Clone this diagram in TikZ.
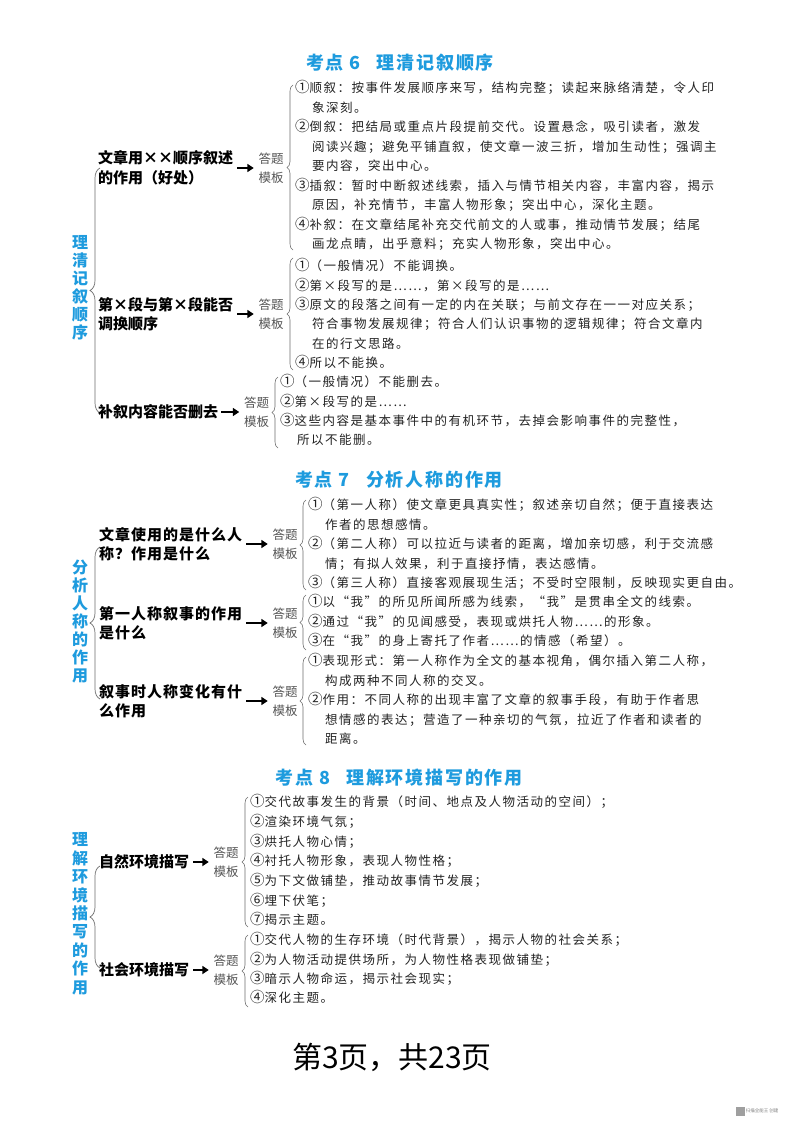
\documentclass[tikz,border=0pt]{standalone}
\usepackage{fontspec}
\setmainfont{Noto Sans CJK SC}
\newfontfamily\cjk{Noto Sans CJK SC}
\newfontfamily\cjkit[LetterSpace=12]{Noto Sans CJK SC}
\newfontfamily\cjkti[LetterSpace=10]{Noto Sans CJK SC}
\newfontfamily\cjklb[LetterSpace=6.7]{Noto Sans CJK SC}
\usetikzlibrary{decorations.pathreplacing,arrows.meta}
\definecolor{cyanT}{RGB}{30,155,222}
\definecolor{txt}{RGB}{35,35,35}
\definecolor{gry}{RGB}{85,85,85}
\definecolor{brc}{RGB}{110,110,110}
\tikzset{
 ttl/.style={text=cyanT, font=\cjkti\bfseries\fontsize{18}{18}\selectfont, inner sep=0, text height=.88em, text depth=.12em},
 vlab/.style={text=cyanT, font=\cjk\bfseries\fontsize{16}{16}\selectfont, inner sep=0, text height=.88em, text depth=.12em},
 blab/.style={text=black, font=\cjk\bfseries\fontsize{15}{19.5}\selectfont, inner sep=0, align=left, anchor=west},
 blabw/.style={blab, font=\cjklb\bfseries\fontsize{15}{19.5}\selectfont},
 dtm/.style={text=gry, font=\cjk\fontsize{12.5}{18.5}\selectfont, inner sep=0, align=center},
 itm/.style={text=txt, font=\cjkit\fontsize{12.5}{12.5}\selectfont, inner sep=0, text height=.88em, text depth=.12em, anchor=west},
 arr/.style={-{Triangle[length=6.5pt,width=8pt]}, line width=2.4pt, black},
 sbrace/.style={decorate, decoration={brace, amplitude=6pt}, draw=brc, line width=0.6pt},
 bbrace/.style={decorate, decoration={brace, amplitude=10pt}, draw=brc, line width=0.7pt},
}
\newcommand\ind{\hspace*{17pt}}
\newcommand\cn[1]{{\fontsize{14.5}{14.5}\selectfont #1}}
\newcommand\elp{⋯⋯}
\newcommand\itemlines[5]{\foreach \t [count=\i from 0] in {#5}{\node[itm] (#1-\i) at ({#2},{#3+\i*#4}) {\t};}}
\newcommand\vlabel[5]{\foreach \c [count=\i from 0] in {#5}{\node[vlab] (#1-\i) at ({#2},{#3+\i*#4}) {\c};}}
\begin{document}
\begin{tikzpicture}[x=1pt,y=-1pt]
\fill[white] (0,0) rectangle (800,1124);
\useasboundingbox (0,0) rectangle (800,1124);

% ================= Section 6
\node[ttl] (t6) at (400,66) {考点 6\hspace{0.9em}理清记叙顺序};
\vlabel{v6}{80}{245}{18}{理,清,记,叙,顺,序}
\coordinate (B6t) at (100,168); \coordinate (B6b) at (100,413);
\draw[bbrace] (B6b) -- (B6t);

\node[blab] (L61) at (98,168) {文章用××顺序叙述\\的作用（好处）};
\node[dtm] (D61) at (271,168) {答题\\模板};
\draw[arr] ([xshift=4pt]L61.east) -- ([xshift=-4.5pt]D61.west);
\coordinate (S61t) at (293,85); \coordinate (S61b) at (293,250);
\draw[sbrace] (S61b) -- (S61t);
\itemlines{i61}{295}{89}{19.5}{\cn①顺叙：按事件发展顺序来写，结构完整；读起来脉络清楚，令人印, \ind 象深刻。, \cn②倒叙：把结局或重点片段提前交代。设置悬念，吸引读者，激发, \ind 阅读兴趣；避免平铺直叙，使文章一波三折，增加生动性；强调主, \ind 要内容，突出中心。, \cn③插叙：暂时中断叙述线索，插入与情节相关内容，丰富内容，揭示, \ind 原因，补充情节，丰富人物形象；突出中心，深化主题。, \cn④补叙：在文章结尾补充交代前文的人或事，推动情节发展；结尾, \ind 画龙点睛，出乎意料；充实人物形象，突出中心。}

\node[blab] (L62) at (98,314) {第×段与第×段能否\\调换顺序};
\node[dtm] (D62) at (271,314) {答题\\模板};
\draw[arr] ([xshift=4pt]L62.east) -- ([xshift=-4.5pt]D62.west);
\coordinate (S62t) at (293,258); \coordinate (S62b) at (293,370);
\draw[sbrace] (S62b) -- (S62t);
\itemlines{i62}{295}{267}{19.3}{\cn①（一般情况）不能调换。, \cn②第×段写的是\elp，第×段写的是\elp, \cn③原文的段落之间有一定的内在关联；与前文存在一一对应关系；, \ind 符合事物发展规律；符合人们认识事物的逻辑规律；符合文章内, \ind 在的行文思路。, \cn④所以不能换。}

\node[blab] (L63) at (98,412) {补叙内容能否删去};
\node[dtm] (D63) at (256.5,412) {答题\\模板};
\draw[arr] ([xshift=3pt]L63.east) -- ([xshift=-4.5pt]D63.west);
\coordinate (S63t) at (278,377); \coordinate (S63b) at (278,448);
\draw[sbrace] (S63b) -- (S63t);
\itemlines{i63}{280}{383}{19.3}{\cn①（一般情况）不能删去。, \cn②第×段写的是\elp, \cn③这些内容是基本事件中的有机环节，去掉会影响事件的完整性，, \ind 所以不能删。}

% ================= Section 7
\node[ttl] (t7) at (399,483) {考点 7\hspace{0.9em}分析人称的作用};
\vlabel{v7}{80}{570}{18}{分,析,人,称,的,作,用}
\coordinate (B7t) at (100,547); \coordinate (B7b) at (100,699);
\draw[bbrace] (B7b) -- (B7t);

\node[blabw] (L71) at (99,544) {文章使用的是什么人\\称？作用是什么};
\node[dtm] (D71) at (285,544) {答题\\模板};
\draw[arr] ([xshift=4pt]L71.east) -- ([xshift=-4.5pt]D71.west);
\coordinate (S71t) at (306,500); \coordinate (S71b) at (306,590);
\draw[sbrace] (S71b) -- (S71t);
\itemlines{i71}{308}{506}{19.5}{\cn①（第一人称）使文章更具真实性；叙述亲切自然；便于直接表达, \ind 作者的思想感情。, \cn②（第二人称）可以拉近与读者的距离，增加亲切感，利于交流感, \ind 情；有拟人效果，利于直接抒情，表达感情。, \cn③（第三人称）直接客观展现生活；不受时空限制，反映现实更自由。}

\node[blabw] (L72) at (99,623) {第一人称叙事的作用\\是什么};
\node[dtm] (D72) at (285,623) {答题\\模板};
\draw[arr] ([xshift=4pt]L72.east) -- ([xshift=-4.5pt]D72.west);
\coordinate (S72t) at (306,595); \coordinate (S72b) at (306,650);
\draw[sbrace] (S72b) -- (S72t);
\itemlines{i72}{308}{603}{19.5}{\cn①以“我”的所见所闻所感为线索，“我”是贯串全文的线索。, \cn②通过“我”的见闻感受，表现或烘托人物\elp 的形象。, \cn③在“我”的身上寄托了作者\elp 的情感（希望）。}

\node[blabw] (L73) at (99,701) {叙事时人称变化有什\\么作用};
\node[dtm] (D73) at (285,701) {答题\\模板};
\draw[arr] ([xshift=4pt]L73.east) -- ([xshift=-4.5pt]D73.west);
\coordinate (S73t) at (306,657); \coordinate (S73b) at (306,745);
\draw[sbrace] (S73b) -- (S73t);
\itemlines{i73}{308}{662}{19.5}{\cn①表现形式：第一人称作为全文的基本视角，偶尔插入第二人称，, \ind 构成两种不同人称的交叉。, \cn②作用：不同人称的出现丰富了文章的叙事手段，有助于作者思, \ind 想情感的表达；营造了一种亲切的气氛，拉近了作者和读者的, \ind 距离。}

% ================= Section 8
\node[ttl] (t8) at (399,781) {考点 8\hspace{0.9em}理解环境描写的作用};
\vlabel{v8}{80}{842}{18.4}{理,解,环,境,描,写,的,作,用}
\coordinate (B8t) at (100,866); \coordinate (B8b) at (100,968);
\draw[bbrace] (B8b) -- (B8t);

\node[blab] (L81) at (99,862) {自然环境描写};
\node[dtm] (D81) at (226,862) {答题\\模板};
\draw[arr] ([xshift=4pt]L81.east) -- ([xshift=-4.5pt]D81.west);
\coordinate (S81t) at (248,797); \coordinate (S81b) at (248,927);
\draw[sbrace] (S81b) -- (S81t);
\itemlines{i81}{250}{803}{19.67}{\cn①交代故事发生的背景（时间、地点及人物活动的空间）；, \cn②渲染环境气氛；, \cn③烘托人物心情；, \cn④衬托人物形象，表现人物性格；, \cn⑤为下文做铺垫，推动故事情节发展；, \cn⑥埋下伏笔；, \cn⑦揭示主题。}

\node[blab] (L82) at (99,970) {社会环境描写};
\node[dtm] (D82) at (226,970) {答题\\模板};
\draw[arr] ([xshift=4pt]L82.east) -- ([xshift=-4.5pt]D82.west);
\coordinate (S82t) at (248,935); \coordinate (S82b) at (248,1007);
\draw[sbrace] (S82b) -- (S82t);
\itemlines{i82}{250}{941}{19.3}{\cn①交代人物的生存环境（时代背景），揭示人物的社会关系；, \cn②为人物活动提供场所，为人物性格表现做铺垫；, \cn③暗示人物命运，揭示社会现实；, \cn④深化主题。}

% ================= Footer
\node[font=\cjk\fontsize{30}{30}\selectfont, inner sep=0, text height=.88em, text depth=.12em, text=black] (foot) at (392,1065) {第3页，共23页};
\node[fill=gray!75, minimum size=9pt, inner sep=0] (qr) at (740,1111) {};
\node[font=\cjk\fontsize{4.5}{5}\selectfont, text=gray, anchor=west, inner sep=1pt] (wm) at (qr.east) {扫描全能王\ 创建};
\end{tikzpicture}
\end{document}
